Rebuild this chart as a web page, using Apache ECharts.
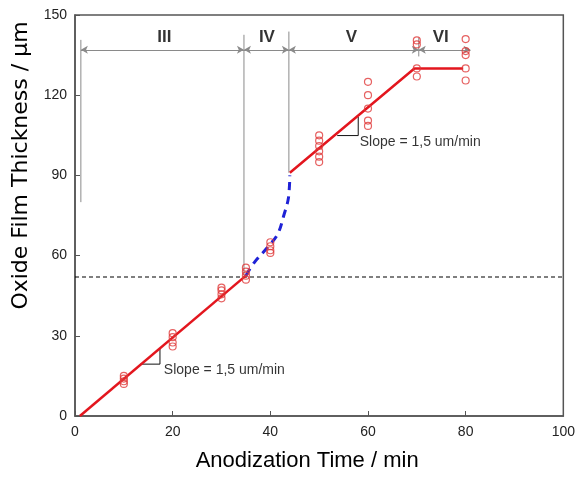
<!DOCTYPE html>
<html>
<head>
<meta charset="utf-8">
<script src="https://cdn.jsdelivr.net/npm/echarts@6/dist/echarts.min.js"></script>
<style>
  html, body { margin: 0; padding: 0; background: #fff; }
  #chartMain { width: 578px; height: 477px; }
</style>
</head>
<body>
<div id="chartMain"></div>
<script>
// 轴刻度
var xTicks = [0, 20, 40, 60, 80, 100];
var yTicks = [0, 30, 60, 90, 120, 150];

// 实测点 (时间, 厚度)
var measured = [
  [10, 12], [10, 13], [10, 14], [10, 15],
  [20, 26], [20, 27.5], [20, 29.5], [20, 31],
  [30, 44], [30, 45.5], [30, 47], [30, 48],
  [35, 51], [35, 52.5], [35, 54], [35, 55.5],
  [40, 61], [40, 62], [40, 63.5], [40, 65],
  [50, 95], [50, 97], [50, 99], [50, 101], [50, 103], [50, 105],
  [60, 108.5], [60, 110.5], [60, 115], [60, 120], [60, 125],
  [70, 127], [70, 130], [70, 139], [70, 140.5],
  [80, 125.5], [80, 130], [80, 135], [80, 136.5], [80, 141]
];

// 拟合线
var fitIII = [[1, 0], [35, 52.5]];
var fitIV = [[35, 52.5], [36.7, 57.4], [39.4, 63], [41.5, 68], [42.8, 75.3], [43.7, 81.5], [44, 90]];
var fitV = [[44, 91], [69.5, 130], [79.5, 130]];

// 阶段边界和标签
var stageBounds = [1.2, 34.6, 43.8, 70.4, 81];
var boundTops = [140.7, 142.6, 143.8, 141.5];
var boundBottoms = [80, 52.5, 91, 134.5];
var arrowLevel = 137;
var stageNames = ['III', 'IV', 'V', 'VI'];
var stageLabelX = [18.3, 39.3, 56.6, 74.9];
var stageLabelY = 141.5;
var criticalThickness = 52;

// 斜率三角
var slopeTri1 = [[13.4, 19.4], [17.4, 19.4], [17.4, 25.3]];
var slopeTri2 = [[53.7, 104.9], [58, 104.9], [58, 111.9]];
var slopeText = [[18.2, 17.3, 'Slope = 1,5 um/min'], [58.3, 102.5, 'Slope = 1,5 um/min']];

var myChart = echarts.init(document.getElementById('chartMain'));

var gray = '#8a8a8a';
var series = [];

function addLine(data, color, width, type) {
  series.push({
    type: 'line', data: data, symbol: 'none', silent: true,
    lineStyle: { color: color, width: width, type: type || 'solid' },
    z: 3
  });
}

// 边界竖线
for (var i = 0; i < 4; i++) {
  addLine([[stageBounds[i], boundBottoms[i]], [stageBounds[i], boundTops[i]]], gray, 1);
}

// 双箭头
var arrows = [];
for (var j = 0; j < 4; j++) {
  arrows.push([{ coord: [stageBounds[j], arrowLevel] }, { coord: [stageBounds[j + 1], arrowLevel] }]);
}
series.push({
  type: 'line', data: [], silent: true,
  markLine: {
    silent: true, symbol: ['arrow', 'arrow'], symbolSize: [6, 7],
    label: { show: false },
    lineStyle: { color: gray, width: 1.2, type: 'solid' },
    data: arrows, animation: false
  }
});

// 临界虚线
addLine([[0, criticalThickness], [100, criticalThickness]], '#000', 1.1, [4, 3]);

addLine(slopeTri1, '#111', 1);
addLine(slopeTri2, '#111', 1);

addLine(fitIII, '#e3161e', 2.5);
addLine(fitV, '#e3161e', 2.5);
series.push({
  type: 'line', data: fitIV, symbol: 'none', smooth: 0.35, silent: true,
  lineStyle: { color: '#1f22d6', width: 3, type: [8, 6] }, z: 4
});

series.push({
  type: 'scatter', data: measured, symbol: 'circle', symbolSize: 7,
  itemStyle: { color: 'rgba(0,0,0,0)', borderColor: '#e03a3a', borderWidth: 1.2 },
  z: 5
});

// 阶段标签
series.push({
  type: 'scatter', symbolSize: 0, silent: true,
  data: stageNames.map(function (n, k) { return [stageLabelX[k], stageLabelY, n]; }),
  label: {
    show: true, position: 'inside', formatter: function (p) { return p.value[2]; },
    fontSize: 17, fontWeight: 'bold', color: '#000', fontFamily: 'Liberation Sans'
  }
});

series.push({
  type: 'scatter', symbolSize: 0, silent: true, data: slopeText,
  label: {
    show: true, position: 'right', distance: 0, formatter: function (p) { return p.value[2]; },
    fontSize: 14, color: '#000', fontFamily: 'Liberation Sans'
  }
});

myChart.setOption({
  animation: false,
  grid: { left: 75, top: 15, right: 11.5, bottom: 57, show: true, borderColor: '#555', borderWidth: 1.5 },
  xAxis: {
    type: 'value', min: xTicks[0], max: xTicks[xTicks.length - 1], interval: 20,
    name: 'Anodization Time / min', nameLocation: 'middle', nameGap: 34,
    nameTextStyle: { fontSize: 22, color: '#000', fontFamily: 'Liberation Sans', padding: [0, 24, 0, 0] },
    axisLine: { lineStyle: { color: '#555', width: 1.5 } },
    axisTick: { inside: true, length: 5, lineStyle: { color: '#555' } },
    axisLabel: { fontSize: 14, color: '#222', margin: 9, fontFamily: 'Liberation Sans' },
    splitLine: { show: false }
  },
  yAxis: {
    type: 'value', min: yTicks[0], max: yTicks[yTicks.length - 1], interval: 30,
    name: 'Oxide Film Thickness / µm', nameLocation: 'middle', nameGap: 43,
    nameTextStyle: { fontSize: 22, color: '#000', fontFamily: 'DejaVu Sans', padding: [0, 0, 0, 100] },
    axisLine: { lineStyle: { color: '#555', width: 1.5 } },
    axisTick: { inside: true, length: 5, lineStyle: { color: '#555' } },
    axisLabel: { fontSize: 14, color: '#222', margin: 8, fontFamily: 'Liberation Sans' },
    splitLine: { show: false }
  },
  series: series
});
</script>
</body>
</html>
